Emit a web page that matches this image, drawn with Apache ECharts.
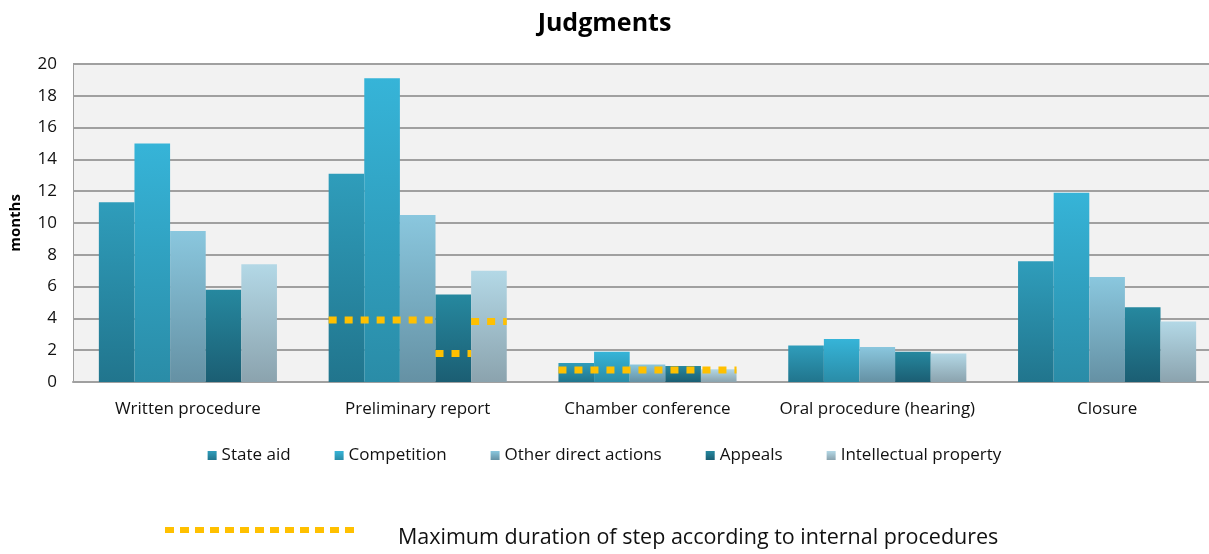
<!DOCTYPE html>
<html>
<head>
<meta charset="utf-8">
<script src="https://cdn.jsdelivr.net/npm/echarts@6/dist/echarts.min.js"></script>
<style>
    html, body { margin: 0; padding: 0; background: #fff; }
    #chart { width: 1209px; height: 554px; }
</style>
</head>
<body>
<div id="chart"></div>
<script>
// steps of the procedure
var steps = ['Written procedure', 'Preliminary report', 'Chamber conference', 'Oral procedure (hearing)', 'Closure'];
var seriesNames = ['State aid', 'Competition', 'Other direct actions', 'Appeals', 'Intellectual property'];

// durations in months
var stateAid = [11.3, 13.1, 1.2, 2.3, 7.6];
var competition = [15.0, 19.1, 1.9, 2.7, 11.9];
var otherDirect = [9.5, 10.5, 1.1, 2.2, 6.6];
var appeals = [5.8, 5.5, 1.0, 1.9, 4.7];
var intellectual = [7.4, 7.0, 0.8, 1.8, 3.8];

// maximum duration according to internal procedures (null = none)
var stateAidMax = [null, 3.9, 0.75, null, null];
var competitionMax = [null, 3.9, 0.75, null, null];
var otherDirectMax = [null, 3.9, 0.75, null, null];
var appealsMax = [null, 1.8, 0.75, null, null];
var intellectualMax = [null, 3.8, 0.75, null, null];

var yTicks = { min: 0, max: 20, interval: 2 };

var values = [stateAid, competition, otherDirect, appeals, intellectual];
var maxes = [stateAidMax, competitionMax, otherDirectMax, appealsMax, intellectualMax];

// top / bottom colours of each bar gradient
var colors = [
    ['#2f9dbb', '#21758d'],
    ['#36b4d8', '#2a8ca7'],
    ['#8ac7de', '#6591a4'],
    ['#26889f', '#1b5e73'],
    ['#b3d8e6', '#8ba3ae']
];

var barGapRatio = 0.225;

function grad(c) {
    return new echarts.graphic.LinearGradient(0, 0, 0, 1, [
        { offset: 0, color: c[0] },
        { offset: 1, color: c[1] }
    ]);
}

var barSeries = seriesNames.map(function (name, i) {
    return {
        name: name,
        type: 'bar',
        barGap: 0,
        barCategoryGap: (barGapRatio * 100) + '%',
        itemStyle: { color: grad(colors[i]) },
        data: values[i]
    };
});

// merge neighbouring bars with the same max value into one dotted segment
var maxData = [];
for (var c = 0; c < steps.length; c++) {
    var s = 0;
    while (s < maxes.length) {
        var v = maxes[s][c];
        if (v == null) { s++; continue; }
        var n = 1;
        while (s + n < maxes.length && maxes[s + n][c] === v) n++;
        maxData.push([c, v, s, n]);
        s += n;
    }
}

function renderMax(params, api) {
    var cat = api.value(0);
    var p = api.coord([cat, api.value(1)]);
    var catW = api.size([1, 0])[0];
    var groupW = catW * (1 - barGapRatio);
    var barW = groupW / seriesNames.length;
    var x0 = p[0] - groupW / 2 + api.value(2) * barW;
    return {
        type: 'line',
        shape: { x1: x0, y1: p[1], x2: x0 + api.value(3) * barW, y2: p[1] },
        style: { stroke: '#ffc000', lineWidth: 7, lineDash: [8, 8] }
    };
}

var myChart = echarts.init(document.getElementById('chart'));
var font = 'Open Sans';
var option = {
    backgroundColor: '#fff',
    animation: false,
    textStyle: { fontFamily: font },
    title: {
        text: 'Judgments',
        left: 'center',
        top: 6,
        textStyle: { fontFamily: font, fontSize: 25, fontWeight: 'bold', color: '#000' }
    },
    legend: {
        data: seriesNames,
        top: 442,
        left: 'center',
        icon: 'rect',
        itemWidth: 9,
        itemHeight: 9,
        itemGap: 44,
        textStyle: { fontFamily: font, fontSize: 17, color: '#111' }
    },
    grid: {
        left: 73,
        top: 64,
        width: 1149,
        height: 318,
        outerBoundsMode: 'none',
        containLabel: false,
        show: true,
        backgroundColor: '#f2f2f2',
        borderWidth: 0
    },
    xAxis: {
        type: 'category',
        data: steps,
        axisTick: { show: false },
        axisLine: { lineStyle: { color: '#a0a0a0', width: 2 } },
        axisLabel: { interval: 0, fontFamily: font, fontSize: 17, color: '#111', margin: 19 }
    },
    yAxis: {
        type: 'value',
        min: yTicks.min,
        max: yTicks.max,
        interval: yTicks.interval,
        name: 'months',
        nameLocation: 'middle',
        nameRotate: 90,
        nameGap: 50,
        nameTextStyle: { fontFamily: font, fontSize: 15, fontWeight: 'bold', color: '#000' },
        axisLine: { show: true, lineStyle: { color: '#a0a0a0', width: 1 } },
        axisTick: { show: false },
        axisLabel: { fontFamily: font, fontSize: 17, color: '#111', margin: 16 },
        splitLine: { lineStyle: { color: '#a0a0a0', width: 2 } }
    },
    graphic: [
        {
            type: 'line',
            shape: { x1: 165, y1: 530, x2: 356, y2: 530 },
            style: { stroke: '#ffc000', lineWidth: 6, lineDash: [9, 6] }
        },
        {
            type: 'text',
            left: 398,
            top: 527,
            style: { text: 'Maximum duration of step according to internal procedures', fontFamily: font, fontSize: 21.5, fill: '#111' }
        }
    ],
    series: barSeries.concat([{
        name: 'Maximum duration',
        type: 'custom',
        renderItem: renderMax,
        encode: { x: 0, y: 1 },
        z: 10,
        data: maxData
    }])
};
myChart.setOption(option);
window.addEventListener('resize', function () {
    myChart.resize();
});
</script>
</body>
</html>
